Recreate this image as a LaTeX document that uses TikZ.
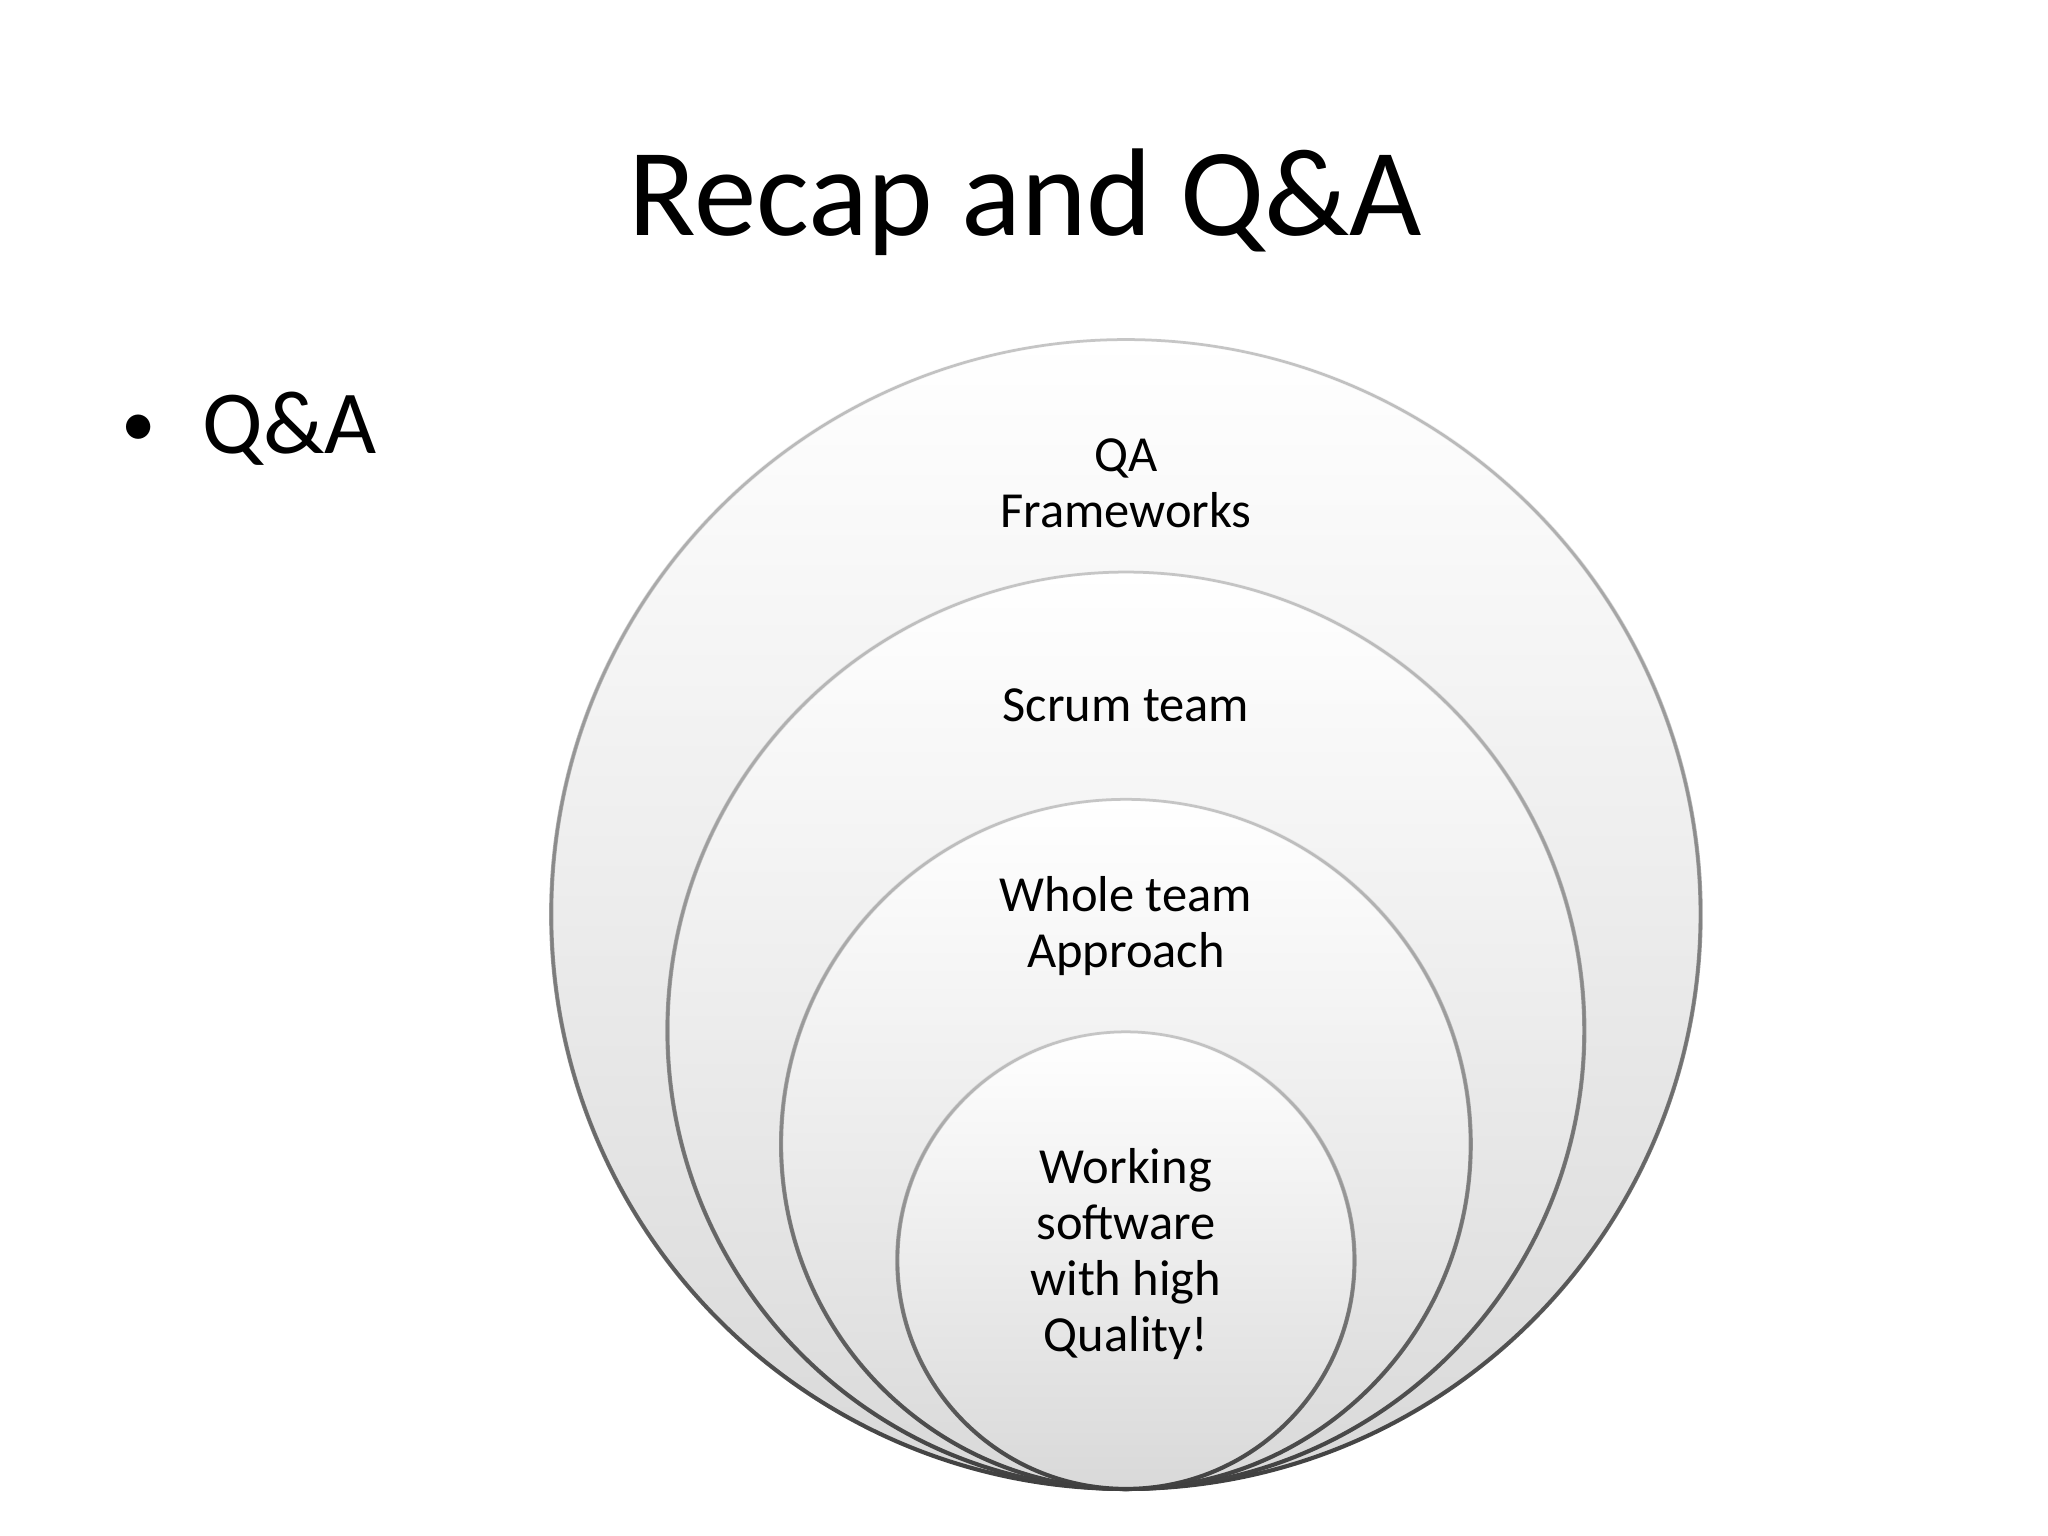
\documentclass[tikz,border=0pt]{standalone}
\usepackage{fontspec}
\setmainfont{Carlito}
\usepackage{xcolor}
\usepackage{tikz}
\usetikzlibrary{fadings}

\begin{document}
\begin{tikzpicture}[
    ring/.style={circle, inner sep=0pt, top color=white, bottom color=black!15, draw=black!22, line width=0.6pt},
    rim/.style={black!75, line width=0.9pt, path fading=north},
    lbl/.style={align=center, font=\fontsize{11}{12.2}\selectfont}
  ]
            \useasboundingbox (0,0) rectangle (15.68,11.76);
            % title and bullet
            \node[anchor=base, font=\fontsize{27.2}{33}\selectfont] (title) at (7.85, 9.96) {Recap and Q\&A};
            \node[anchor=base west, font=\fontsize{19.6}{24}\selectfont] (qa) at (1.43, 8.29) {Q\&A};
            \node[font=\fontsize{15}{18}\selectfont] (dot) at (1.06, 8.46) {\textbullet};
            % nested circles, all touching at the bottom
            \node[ring, minimum size=8.80cm] (outer) at (8.62, 4.76) {};
            \draw[rim] (outer.center) circle[radius=4.40];
            \node[ring, minimum size=7.02cm] (team) at (8.62, 3.87) {};
            \draw[rim] (team.center) circle[radius=3.51];
            \node[ring, minimum size=5.28cm] (whole) at (8.62, 3.00) {};
            \draw[rim] (whole.center) circle[radius=2.64];
            \node[ring, minimum size=3.50cm] (core) at (8.62, 2.11) {};
            \draw[rim] (core.center) circle[radius=1.75];
            % labels
            \node[lbl] (l1) at (8.62, 8.06) {QA\\Frameworks};
            \node[lbl] (l2) at (8.62, 6.36) {Scrum team};
            \node[lbl] (l3) at (8.62, 4.67) {Whole team\\Approach};
            \node[lbl] (l4) at (8.62, 2.16) {Working\\software\\with high\\Quality!};
        \end{tikzpicture}
\end{document}
